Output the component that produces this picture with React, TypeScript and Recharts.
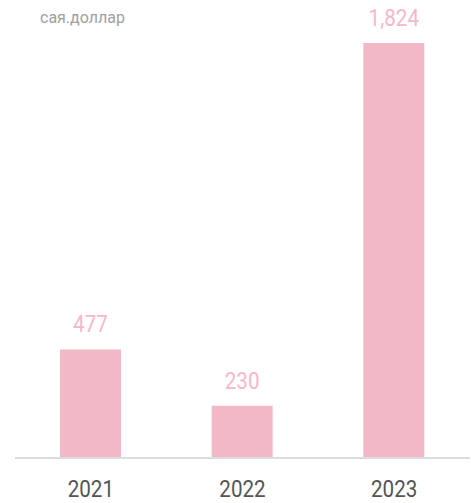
import { Bar, BarChart, LabelList, XAxis, YAxis } from "recharts";

const years = ["2021", "2022", "2023"];
const amounts = [477, 230, 1824];
const unitLabel = "сая.доллар";

const chartData = years.map((year, i) => ({ year, amount: amounts[i] }));

const squeeze = 0.86;

const YearTick = (props: any) => {
  const { x, y, payload } = props;
  return (
    <text
      transform={`translate(${x},${y + 39}) scale(${squeeze},1)`}
      textAnchor="middle"
      fontFamily="Roboto"
      fontSize={24}
      fill="#555555"
    >
      {payload.value}
    </text>
  );
};

const ValueLabel = (props: any) => {
  const { x, y, width, value } = props;
  return (
    <text
      transform={`translate(${x + width / 2},${y - 17}) scale(${squeeze},1)`}
      textAnchor="middle"
      fontFamily="Roboto"
      fontSize={24}
      fill="#f5b8ca"
    >
      {Number(value).toLocaleString("en-US")}
    </text>
  );
};

const App = () => {
  return (
    <div style={{ position: "absolute", left: 0, top: 0, width: 471, height: 503, background: "white" }}>
      <div
        style={{
          position: "absolute",
          left: 40,
          top: 8,
          fontFamily: "Roboto",
          fontSize: 16,
          color: "#a0a0a0",
        }}
      >
        {unitLabel}
      </div>
      <BarChart
        width={471}
        height={503}
        data={chartData}
        margin={{ top: 43, right: 1, left: 15, bottom: 0 }}
      >
        <XAxis
          dataKey="year"
          height={45}
          tickLine={false}
          tickSize={0}
          tickMargin={0}
          axisLine={{ stroke: "#dddddd", strokeWidth: 2 }}
          tick={<YearTick />}
        />
        <YAxis hide domain={[0, 1824]} />
        <Bar dataKey="amount" fill="#f2b8c8" barSize={61} isAnimationActive={false}>
          <LabelList dataKey="amount" content={<ValueLabel />} />
        </Bar>
      </BarChart>
    </div>
  );
};

export default App;
